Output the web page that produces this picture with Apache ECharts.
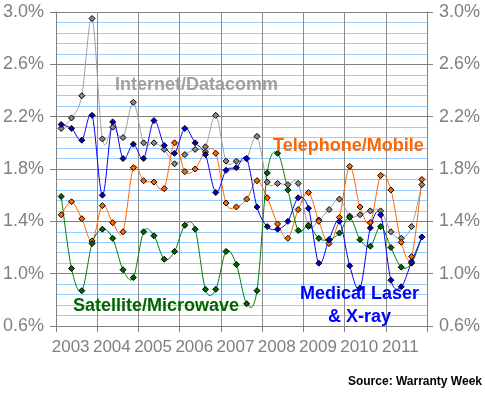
<!DOCTYPE html>
<html>
<head>
<meta charset="utf-8">
<script src="https://cdn.jsdelivr.net/npm/echarts@6/dist/echarts.min.js"></script>
<style>html,body{margin:0;padding:0;background:#fff}#c{width:485px;height:394px}</style>
</head>
<body>
<div id="c"></div>
<script>
const years = ['2003','2004','2005','2006','2007','2008','2009','2010','2011'];
const quarters = [];
years.forEach(y => { for (let q = 1; q <= 4; q++) quarters.push(y + 'Q' + q); });

const internetDatacomm = [2.11,2.19,2.36,2.95, 2.03,2.12,2.04,2.31, 2.00,2.00,1.95,1.84, 1.91,1.95,1.97,2.21,
  1.86,1.86,1.88,2.05, 1.70,1.69,1.68,1.69, 1.36,1.41,1.49,1.57, 1.44,1.45,1.48,1.48, 1.32,1.27,1.36,1.68];
const telephoneMobile = [1.45,1.55,1.42,1.25, 1.52,1.39,1.32,1.81, 1.71,1.70,1.65,2.00, 1.78,1.80,1.93,1.92,
  1.54,1.51,1.57,1.71, 1.58,1.38,1.27,1.49, 1.62,1.40,1.23,1.43, 1.82,1.51,1.39,1.75, 1.64,1.24,1.13,1.72];
const satelliteMicrowave = [1.59,1.04,0.87,1.23, 1.34,1.27,1.03,0.97, 1.32,1.29,1.11,1.17, 1.37,1.34,0.88,0.88,
  1.17,1.07,0.77,0.87, 1.77,1.92,1.64,1.33, 1.37,1.27,1.26,1.31, 1.43,1.26,1.21,1.36, 1.20,1.05,1.08,1.28];
const medicalLaserXray = [2.14,2.11,2.02,2.21, 1.60,2.16,1.88,1.99, 1.88,2.17,1.98,1.92, 2.11,2.00,1.91,1.62,
  1.79,1.81,1.88,1.51, 1.36,1.34,1.40,1.58, 1.50,1.08,1.26,1.40, 1.06,0.89,1.35,1.45, 0.95,0.90,1.09,1.28];

const axisGray = '#808080';
const minorBlue = '#99ccff';
const FONT = '"Liberation Sans", Arial, sans-serif';

// smooth curve (Catmull-Rom style, like spreadsheet smoothed lines) drawn segment by segment
function curveSeries(name, arr, color) {
  return {
    name: name + ' line', type: 'custom', coordinateSystem: 'cartesian2d',
    xAxisIndex: 0, yAxisIndex: 0, z: 2, silent: true,
    data: arr.map((v, i) => [i, v]), encode: { x: 0, y: 1 },
    renderItem: function (params, api) {
      const i = params.dataIndex, n = arr.length;
      if (i >= n - 1) return null;
      const P = j => { j = Math.max(0, Math.min(n - 1, j)); return api.coord([j, arr[j]]); };
      const p0 = P(i - 1), p1 = P(i), p2 = P(i + 1), p3 = P(i + 2);
      const t = 1 / 6;
      const c1 = [p1[0] + (p2[0] - p0[0]) * t, p1[1] + (p2[1] - p0[1]) * t];
      const c2 = [p2[0] - (p3[0] - p1[0]) * t, p2[1] - (p3[1] - p1[1]) * t];
      return {
        type: 'bezierCurve',
        shape: { x1: p1[0], y1: p1[1], x2: p2[0], y2: p2[1], cpx1: c1[0], cpy1: c1[1], cpx2: c2[0], cpy2: c2[1] },
        style: { stroke: color, fill: null, lineWidth: 1 }
      };
    },
    animation: false
  };
}
function markerSeries(name, arr, fill) {
  return {
    name, type: 'scatter', xAxisIndex: 0, yAxisIndex: 0, z: 3, data: arr,
    symbol: 'diamond', symbolSize: 6,
    itemStyle: { color: fill, borderColor: '#000', borderWidth: 1, opacity: 1 },
    emphasis: { disabled: true }, animation: false
  };
}

function yAx(pos) {
  return {
    type: 'value', position: pos, min: 0.6, max: 3.0, interval: 0.4,
    axisLine: { show: true, lineStyle: { color: axisGray, width: 1 } },
    axisTick: { show: true, length: 6, lineStyle: { color: axisGray } },
    axisLabel: { show: true, margin: 12, color: axisGray, fontSize: 18, fontFamily: FONT,
      formatter: v => v.toFixed(1) + '%' },
    splitLine: { show: pos === 'left', lineStyle: { color: axisGray, width: 1 } },
    minorTick: { show: false, splitNumber: 5 },
    minorSplitLine: { show: pos === 'left', lineStyle: { color: minorBlue, width: 1 } }
  };
}

const chart = echarts.init(document.getElementById('c'), null, { renderer: 'canvas' });
chart.setOption({
  animation: false,
  backgroundColor: '#fff',
  grid: { left: 55, right: 58, top: 12, bottom: 68, containLabel: false },
  xAxis: [
    { type: 'category', data: quarters, boundaryGap: true, show: false },
    { type: 'category', data: years, boundaryGap: true, position: 'bottom',
      axisLine: { show: true, lineStyle: { color: axisGray } },
      axisTick: { show: true, length: 6, alignWithLabel: false, lineStyle: { color: axisGray } },
      axisLabel: { color: axisGray, fontSize: 17, fontFamily: FONT, margin: 13, padding: [0, 12, 0, 0], interval: 0 },
      splitLine: { show: true, interval: 0, lineStyle: { color: '#8c8c8c', width: 1 } } }
  ],
  yAxis: [yAx('left'), yAx('right')],
  series: [
    curveSeries('Internet/Datacomm', internetDatacomm, '#a0a0a0'),
    curveSeries('Telephone/Mobile', telephoneMobile, '#ff6600'),
    curveSeries('Satellite/Microwave', satelliteMicrowave, '#008000'),
    curveSeries('Medical Laser & X-ray', medicalLaserXray, '#0000ff'),
    markerSeries('Internet/Datacomm', internetDatacomm, '#8a8a8a'),
    markerSeries('Telephone/Mobile', telephoneMobile, '#ff6600'),
    markerSeries('Satellite/Microwave', satelliteMicrowave, '#006600'),
    markerSeries('Medical Laser & X-ray', medicalLaserXray, '#0000cc')
  ],
  graphic: [
    { type: 'text', left: 115, top: 76, z: 100, style: { text: 'Internet/Datacomm', fill: '#a0a0a0', font: 'bold 18px ' + FONT } },
    { type: 'text', left: 273, top: 137, z: 100, style: { text: 'Telephone/Mobile', fill: '#ff6600', font: 'bold 18px ' + FONT } },
    { type: 'text', left: 73, top: 297, z: 100, style: { text: 'Satellite/Microwave', fill: '#006600', font: 'bold 18px ' + FONT } },
    { type: 'text', left: 300, top: 285, z: 100, style: { text: 'Medical Laser', fill: '#0000ff', font: 'bold 18px ' + FONT } },
    { type: 'text', left: 328, top: 308, z: 100, style: { text: '& X-ray', fill: '#0000ff', font: 'bold 18px ' + FONT } },
    { type: 'text', right: 3, top: 376, z: 100, style: { text: 'Source: Warranty Week', fill: '#000', font: 'bold 12px ' + FONT } }
  ]
});
</script>
</body>
</html>
